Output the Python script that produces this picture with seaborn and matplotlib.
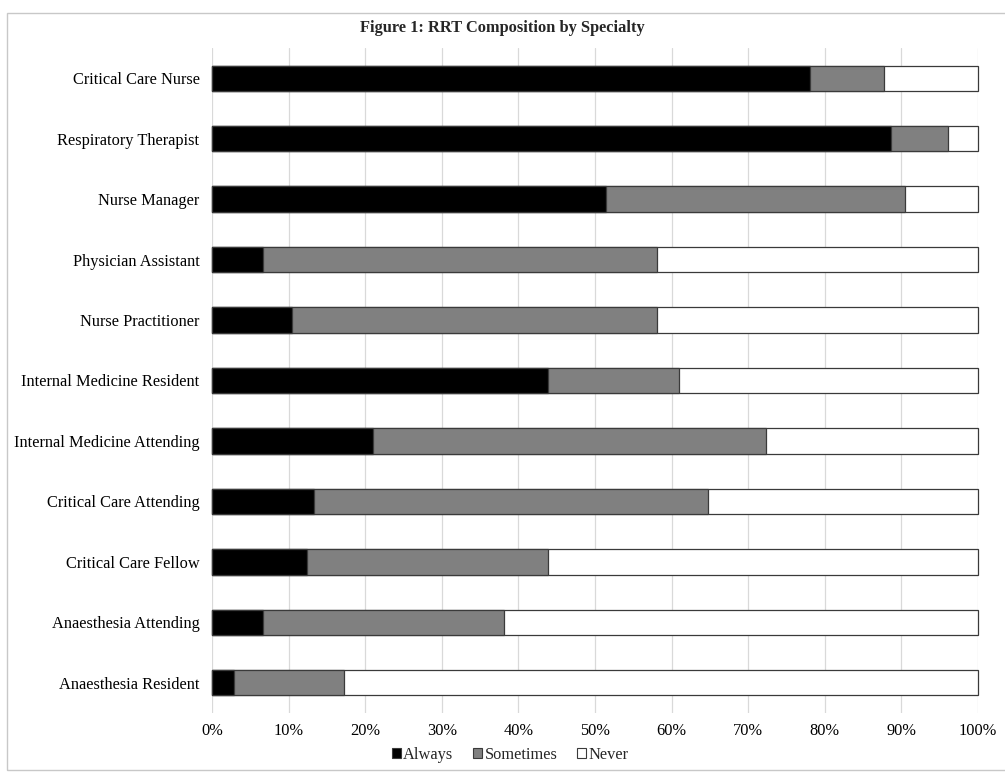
import matplotlib
matplotlib.use("Agg")
import matplotlib.pyplot as plt
import seaborn as sns
import pandas as pd
import numpy as np
from matplotlib.patches import Patch, Rectangle
from matplotlib.ticker import FuncFormatter

specialties = [
    "Critical Care Nurse",
    "Respiratory Therapist",
    "Nurse Manager",
    "Physician Assistant",
    "Nurse Practitioner",
    "Internal Medicine Resident",
    "Internal Medicine Attending",
    "Critical Care Attending",
    "Critical Care Fellow",
    "Anaesthesia Attending",
    "Anaesthesia Resident",
]
always = [78.1, 88.7, 51.5, 6.7, 10.5, 43.9, 21.0, 13.3, 12.4, 6.7, 2.9]
sometimes = [9.6, 7.4, 39.0, 51.4, 47.6, 17.1, 51.3, 51.5, 31.4, 31.4, 14.3]
never = [12.3, 3.9, 9.5, 41.9, 41.9, 39.0, 27.7, 35.2, 56.2, 61.9, 82.8]
series_names = ["Always", "Sometimes", "Never"]
series_colors = ["#000000", "#808080", "#ffffff"]

sns.set_style("whitegrid")
plt.rcParams["font.family"] = ["Liberation Serif", "DejaVu Serif"]

df = pd.DataFrame({"Specialty": specialties, "Always": always,
                   "Sometimes": sometimes, "Never": never})
df["c_always"] = df["Always"]
df["c_sometimes"] = df["Always"] + df["Sometimes"]
df["c_never"] = df["Always"] + df["Sometimes"] + df["Never"]

fig = plt.figure(figsize=(10.05, 7.72), dpi=100)
ax = fig.add_axes([212 / 1005, 1 - 713 / 772, (978 - 212) / 1005, (713 - 48) / 772])

for col, color in zip(["c_never", "c_sometimes", "c_always"], series_colors[::-1]):
    sns.barplot(data=df, x=col, y="Specialty", order=specialties, color=color,
                saturation=1, width=0.42, edgecolor="#3a3a3a", linewidth=0.9,
                ax=ax, orient="h")
for p in ax.patches:
    p.set_clip_on(False)

ax.set_xlim(0, 100)
ax.set_ylim(len(specialties) - 0.5, -0.5)
ax.set_xticks(np.arange(0, 101, 10))
ax.xaxis.set_major_formatter(FuncFormatter(lambda v, p: f"{int(v)}%"))
ax.grid(axis="x", color="#d9d9d9", linewidth=0.9)
ax.grid(axis="y", visible=False)
ax.set_axisbelow(True)
for s in ax.spines.values():
    s.set_visible(False)
ax.set_xlabel("")
ax.set_ylabel("")
ax.tick_params(axis="y", length=0, pad=9, labelsize=11.8, labelcolor="#000000")
ax.tick_params(axis="x", length=0, pad=7, labelsize=11.8, labelcolor="#000000")

fig.text(0.5, 1 - 28 / 772, "Figure 1: RRT Composition by Specialty",
         ha="center", va="center", fontsize=11.8, fontweight="bold")

handles = [Patch(facecolor=c, edgecolor="#3a3a3a", linewidth=0.8, label=n)
           for n, c in zip(series_names, series_colors)]
fig.legend(handles=handles, loc="center", bbox_to_anchor=(510 / 1005, 1 - 755 / 772),
           ncol=3, frameon=False, fontsize=11.8, handlelength=0.55,
           handleheight=0.55, handletextpad=0.15, columnspacing=1.2)

fig.patches.append(Rectangle((7 / 1005, 1 - 770 / 772), 1.1, (770 - 13) / 772,
                             transform=fig.transFigure, fill=False,
                             edgecolor="#c8c8c8", linewidth=1.0))

fig.savefig("out.png", dpi=100)
